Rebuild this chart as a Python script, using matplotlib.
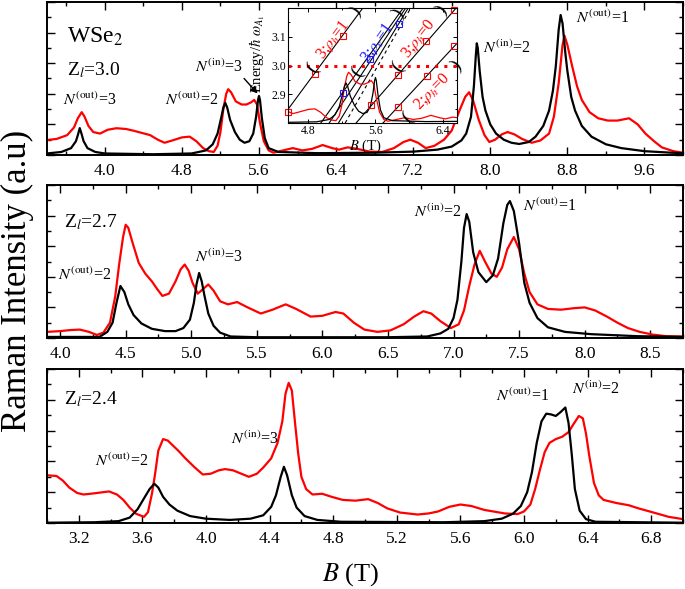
import numpy as np
import matplotlib
matplotlib.use('Agg')
import matplotlib.pyplot as plt
from matplotlib.ticker import MultipleLocator, FormatStrFormatter, NullFormatter, FixedLocator

plt.rcParams['font.family'] = ['Liberation Serif', 'DejaVu Serif']
plt.rcParams['mathtext.fontset'] = 'stix'

# ---------------- data ----------------
# Panel 1 (Z_l = 3.0)
p1_black = [(3.40, 0.10), (3.55, 0.20), (3.65, 0.45), (3.70, 0.90), (3.72, 1.30), (3.74, 1.76),
            (3.76, 1.35), (3.78, 0.90), (3.82, 0.45), (3.90, 0.20), (4.00, 0.10), (4.50, 0.05),
            (4.90, 0.10), (5.05, 0.30), (5.12, 0.70), (5.17, 1.40), (5.21, 2.50), (5.23, 3.10),
            (5.25, 3.40), (5.27, 3.10), (5.30, 2.30), (5.35, 1.50), (5.40, 1.00), (5.45, 0.80),
            (5.50, 0.90), (5.54, 1.40), (5.57, 2.50), (5.59, 3.60), (5.60, 3.86), (5.61, 3.60),
            (5.63, 2.40), (5.66, 1.10), (5.70, 0.45), (5.80, 0.20), (6.20, 0.12), (6.80, 0.15),
            (7.20, 0.22), (7.45, 0.35), (7.60, 0.55), (7.70, 0.95), (7.75, 1.40), (7.80, 2.50),
            (7.83, 4.50), (7.85, 6.50), (7.86, 7.30), (7.87, 7.00), (7.89, 5.50), (7.92, 3.80),
            (7.95, 2.90), (8.00, 2.00), (8.06, 1.40), (8.14, 1.00), (8.22, 0.80), (8.30, 0.72),
            (8.40, 0.85), (8.47, 1.20), (8.55, 1.90), (8.61, 2.90), (8.65, 4.20), (8.68, 5.80),
            (8.71, 8.20), (8.73, 9.15), (8.75, 8.60), (8.78, 6.60), (8.80, 5.50), (8.84, 3.80),
            (8.88, 2.90), (8.95, 1.90), (9.05, 1.20), (9.20, 0.70), (9.36, 0.45), (9.60, 0.25),
            (9.88, 0.15), (10.0, 0.12)]
p1_red = [(3.40, 0.98), (3.50, 1.05), (3.61, 1.30), (3.68, 1.80), (3.72, 2.40), (3.76, 2.80),
          (3.79, 2.50), (3.83, 1.90), (3.88, 1.50), (3.95, 1.40), (4.03, 1.65), (4.12, 1.75),
          (4.22, 1.70), (4.29, 1.60), (4.38, 1.45), (4.47, 1.30), (4.55, 1.00), (4.62, 0.80),
          (4.70, 0.95), (4.80, 1.15), (4.88, 1.20), (4.95, 0.90), (5.02, 0.45), (5.08, 0.25),
          (5.13, 0.20), (5.17, 0.60), (5.20, 1.50), (5.23, 3.00), (5.26, 4.00), (5.28, 4.30),
          (5.31, 4.10), (5.36, 3.50), (5.42, 3.30), (5.47, 3.30), (5.52, 3.45), (5.55, 3.60),
          (5.58, 3.30), (5.61, 2.10), (5.65, 0.90), (5.70, 0.30), (5.75, 0.15), (5.85, 0.30),
          (5.95, 0.45), (6.05, 0.30), (6.15, 0.40), (6.26, 0.65), (6.36, 0.45), (6.43, 0.35),
          (6.52, 0.50), (6.62, 0.40), (6.75, 0.22), (6.88, 0.20), (7.00, 0.45), (7.10, 0.85),
          (7.17, 1.00), (7.25, 0.80), (7.33, 0.45), (7.42, 0.60), (7.52, 1.00), (7.60, 1.60),
          (7.68, 2.90), (7.74, 3.80), (7.78, 4.10), (7.82, 3.60), (7.88, 2.30), (7.94, 1.30),
          (7.99, 0.85), (8.05, 1.00), (8.12, 1.35), (8.18, 1.50), (8.25, 1.35), (8.33, 1.05),
          (8.43, 0.80), (8.52, 0.95), (8.61, 1.40), (8.66, 2.50), (8.71, 4.70), (8.75, 7.20),
          (8.77, 7.80), (8.80, 7.20), (8.85, 5.80), (8.90, 4.50), (8.95, 3.60), (9.03, 2.80),
          (9.12, 2.40), (9.22, 2.25), (9.32, 2.25), (9.44, 2.40), (9.53, 2.00), (9.61, 1.40),
          (9.70, 0.90), (9.78, 0.50), (9.90, 0.25), (10.0, 0.15)]

# Panel 2 (Z_l = 2.7)
p2_black = [(3.90, 0.07), (4.30, 0.07), (4.36, 0.40), (4.40, 1.00), (4.43, 2.30), (4.46, 3.40),
            (4.49, 3.00), (4.52, 2.20), (4.56, 1.50), (4.62, 0.95), (4.70, 0.60), (4.80, 0.45),
            (4.88, 0.45), (4.94, 0.65), (4.99, 1.20), (5.02, 2.30), (5.04, 3.50), (5.06, 4.25),
            (5.08, 3.70), (5.10, 2.80), (5.13, 1.60), (5.17, 0.80), (5.22, 0.35), (5.30, 0.10),
            (5.50, 0.05), (6.50, 0.05), (6.80, 0.10), (6.90, 0.30), (6.96, 0.60), (7.00, 1.30),
            (7.03, 2.50), (7.06, 5.00), (7.08, 7.20), (7.10, 8.10), (7.12, 7.60), (7.15, 5.60),
            (7.19, 4.30), (7.25, 3.65), (7.30, 4.10), (7.34, 5.20), (7.38, 7.50), (7.41, 8.70),
            (7.43, 8.95), (7.46, 8.30), (7.50, 6.20), (7.54, 3.60), (7.58, 2.30), (7.64, 1.30),
            (7.72, 0.70), (7.85, 0.40), (8.05, 0.25), (8.40, 0.12), (8.75, 0.07)]
p2_red = [(3.90, 0.40), (4.00, 0.45), (4.08, 0.52), (4.15, 0.55), (4.22, 0.40), (4.28, 0.20),
          (4.33, 0.35), (4.38, 1.00), (4.42, 2.70), (4.45, 4.80), (4.48, 6.60), (4.50, 7.40),
          (4.52, 7.20), (4.55, 6.30), (4.60, 4.90), (4.65, 4.20), (4.70, 3.70), (4.74, 3.20),
          (4.78, 2.75), (4.83, 2.90), (4.88, 3.70), (4.92, 4.50), (4.95, 4.80), (4.98, 4.40),
          (5.01, 3.60), (5.05, 2.90), (5.09, 3.20), (5.13, 3.50), (5.17, 3.10), (5.22, 2.40),
          (5.28, 2.20), (5.35, 2.35), (5.43, 2.00), (5.53, 1.60), (5.62, 1.85), (5.72, 2.20),
          (5.80, 1.90), (5.91, 1.40), (6.00, 1.45), (6.10, 1.70), (6.16, 1.60), (6.24, 1.00),
          (6.32, 0.55), (6.42, 0.40), (6.52, 0.50), (6.62, 0.90), (6.70, 1.40), (6.77, 1.75),
          (6.83, 1.60), (6.90, 1.10), (6.98, 0.65), (7.04, 0.90), (7.08, 1.80), (7.12, 3.40),
          (7.16, 4.80), (7.20, 5.70), (7.24, 5.00), (7.29, 4.20), (7.33, 4.00), (7.37, 4.60),
          (7.41, 5.80), (7.46, 6.60), (7.50, 5.80), (7.54, 4.20), (7.58, 3.00), (7.64, 2.20),
          (7.72, 1.90), (7.82, 1.85), (7.92, 1.95), (8.00, 2.00), (8.08, 1.80), (8.17, 1.40),
          (8.25, 1.00), (8.33, 0.65), (8.42, 0.40), (8.52, 0.22), (8.62, 0.12), (8.75, 0.10)]

# Panel 3 (Z_l = 2.4)
p3_black = [(3.00, 0.02), (3.30, 0.05), (3.45, 0.12), (3.52, 0.35), (3.57, 0.90), (3.61, 1.60),
            (3.645, 2.20), (3.675, 2.55), (3.70, 2.30), (3.73, 1.70), (3.77, 1.20), (3.82, 0.80),
            (3.90, 0.45), (4.00, 0.28), (4.15, 0.20), (4.28, 0.28), (4.36, 0.50), (4.41, 1.05),
            (4.44, 1.80), (4.47, 3.00), (4.49, 3.65), (4.51, 3.10), (4.54, 1.80), (4.57, 1.00),
            (4.62, 0.45), (4.70, 0.20), (4.85, 0.08), (5.50, 0.05), (5.75, 0.12), (5.86, 0.28),
            (5.93, 0.60), (5.98, 1.10), (6.02, 2.00), (6.05, 3.30), (6.08, 5.20), (6.11, 6.60),
            (6.14, 7.10), (6.17, 7.05), (6.20, 6.95), (6.23, 7.20), (6.26, 7.50), (6.28, 6.50),
            (6.30, 4.50), (6.32, 2.20), (6.35, 0.80), (6.39, 0.25), (6.45, 0.08), (7.00, 0.02)]
p3_red = [(3.00, 3.10), (3.06, 3.05), (3.10, 2.75), (3.14, 2.30), (3.19, 1.95), (3.23, 1.85),
          (3.30, 1.93), (3.39, 2.05), (3.44, 1.85), (3.48, 1.50), (3.52, 1.00), (3.56, 0.60),
          (3.61, 0.40), (3.635, 0.70), (3.66, 1.90), (3.68, 3.20), (3.70, 4.70), (3.73, 5.45),
          (3.76, 5.35), (3.79, 5.05), (3.83, 4.65), (3.87, 4.20), (3.93, 3.60), (3.98, 3.15),
          (4.03, 3.20), (4.08, 3.42), (4.12, 3.50), (4.17, 3.42), (4.21, 3.25), (4.27, 3.00),
          (4.32, 3.20), (4.36, 3.60), (4.41, 4.20), (4.45, 5.20), (4.48, 6.60), (4.50, 8.40),
          (4.52, 9.10), (4.54, 8.60), (4.56, 6.50), (4.58, 4.50), (4.60, 3.00), (4.63, 2.20),
          (4.67, 1.85), (4.73, 1.90), (4.79, 1.70), (4.86, 1.50), (4.94, 1.45), (5.02, 1.55),
          (5.08, 1.30), (5.14, 0.95), (5.22, 0.68), (5.33, 0.55), (5.40, 0.62), (5.46, 0.75),
          (5.53, 1.05), (5.60, 1.20), (5.67, 1.10), (5.75, 0.85), (5.88, 0.62), (5.96, 0.58),
          (6.00, 0.75), (6.04, 1.20), (6.07, 2.20), (6.10, 3.45), (6.13, 4.60), (6.16, 5.20),
          (6.20, 5.45), (6.24, 5.60), (6.28, 5.90), (6.31, 6.40), (6.345, 6.95), (6.37, 6.80),
          (6.39, 5.80), (6.41, 4.40), (6.44, 2.60), (6.47, 1.80), (6.50, 1.50), (6.58, 1.30),
          (6.66, 1.15), (6.72, 0.95), (6.79, 0.75), (6.91, 0.40), (7.00, 0.25)]

# Inset: level lines given by B where E=2.8 and B where E=3.2
inset_lines_solid = [(4.44, 5.45), (4.95, 5.93), (5.05, 5.96), (5.16, 5.99), (5.37, 6.56), (5.69, 6.96)]
inset_lines_dashed = [(5.24, 6.02)]
inset_red_sq_B = [4.56, 4.88, 5.21, 5.55, 5.87, 5.87, 6.21, 6.20, 6.54, 6.54]
inset_red_sq_E = [2.839, 2.971, 3.104, 2.861, 2.968, 2.857, 2.964, 3.086, 3.193, 3.068]
inset_blue_sq_B = [5.21, 5.54, 5.88]
inset_blue_sq_E = [2.904, 3.021, 3.146]
inset_spec_base = 2.8
inset_spec_scale = 0.041
inset_yticks = [2.9, 3.0, 3.1]

# ---------------- figure ----------------
W, H = 685, 589
fig = plt.figure(figsize=(W / 100, H / 100), dpi=100)


def px_axes(left, top, right, bottom):
    return fig.add_axes([left / W, 1 - bottom / H, (right - left) / W, (bottom - top) / H])


def style(ax, xmaj, xmin):
    ax.set_ylim(0, 10)
    ax.xaxis.set_major_locator(MultipleLocator(xmaj))
    ax.xaxis.set_minor_locator(MultipleLocator(xmin))
    ax.xaxis.set_major_formatter(FormatStrFormatter('%.1f'))
    ax.yaxis.set_major_locator(MultipleLocator(2))
    ax.yaxis.set_minor_locator(MultipleLocator(1))
    ax.yaxis.set_major_formatter(NullFormatter())
    ax.tick_params(which='both', direction='in', top=True, right=True, width=1.0)
    ax.tick_params(which='major', length=6, labelsize=12.5, pad=6)
    ax.tick_params(which='minor', length=3)
    for s in ax.spines.values():
        s.set_linewidth(1.4)


def draw(ax, red, black):
    r = np.array(red).T
    b = np.array(black).T
    ax.plot(r[0], r[1], color='#ff0000', lw=1.6)
    ax.plot(b[0], b[1], color='black', lw=1.6)


NFS = 11.5
ax1 = px_axes(47, 2, 683, 155)
draw(ax1, p1_red, p1_black)
ax1.set_xlim(3.4, 10.0)
style(ax1, 0.8, 0.4)
ax1.text(3.61, 7.7, r'WSe$_2$', fontsize=17, va='center', ha='left')
ax1.text(3.61, 5.55, r'Z$_{l}$=3.0', fontsize=14, va='center', ha='left')
ax1.text(3.84, 3.6, r'$N^{\mathrm{(out)}}$=3', fontsize=NFS, ha='center', va='center')
ax1.text(4.90, 3.6, r'$N^{\mathrm{(out)}}$=2', fontsize=NFS, ha='center', va='center')
ax1.annotate(r'$N^{\mathrm{(in)}}$=3', xy=(5.595, 3.95), xytext=(5.18, 5.75), fontsize=NFS,
             ha='center', va='center',
             arrowprops=dict(arrowstyle='-|>', color='black', lw=1.0, mutation_scale=10,
                             relpos=(0.95, 0.1), shrinkA=0, shrinkB=1))
ax1.text(8.17, 7.0, r'$N^{\mathrm{(in)}}$=2', fontsize=NFS, ha='center', va='center')
ax1.text(9.17, 8.9, r'$N^{\mathrm{(out)}}$=1', fontsize=NFS, ha='center', va='center')

ax2 = px_axes(47, 185, 683, 338)
draw(ax2, p2_red, p2_black)
ax2.set_xlim(3.9, 8.75)
style(ax2, 0.5, 0.25)
ax2.text(4.03, 7.6, r'Z$_{l}$=2.7', fontsize=14, va='center', ha='left')
ax2.text(4.19, 4.1, r'$N^{\mathrm{(out)}}$=2', fontsize=NFS, ha='center', va='center')
ax2.text(5.21, 5.3, r'$N^{\mathrm{(in)}}$=3', fontsize=NFS, ha='center', va='center')
ax2.text(6.88, 8.2, r'$N^{\mathrm{(in)}}$=2', fontsize=NFS, ha='center', va='center')
ax2.text(7.73, 8.6, r'$N^{\mathrm{(out)}}$=1', fontsize=NFS, ha='center', va='center')

ax3 = px_axes(47, 369, 683, 523)
draw(ax3, p3_red, p3_black)
ax3.set_xlim(3.0, 7.0)
style(ax3, 0.4, 0.2)
ax3.text(3.11, 8.05, r'Z$_{l}$=2.4', fontsize=14, va='center', ha='left')
ax3.text(3.47, 4.0, r'$N^{\mathrm{(out)}}$=2', fontsize=NFS, ha='center', va='center')
ax3.text(4.31, 5.4, r'$N^{\mathrm{(in)}}$=3', fontsize=NFS, ha='center', va='center')
ax3.text(5.99, 8.2, r'$N^{\mathrm{(out)}}$=1', fontsize=NFS, ha='center', va='center')
ax3.text(6.45, 8.7, r'$N^{\mathrm{(in)}}$=2', fontsize=NFS, ha='center', va='center')

fig.text(17 / W, 1 - 281 / H, 'Raman Intensity (a.u)', rotation=90, fontsize=25,
         ha='center', va='center')
fig.text(351 / W, 1 - 575 / H, r'$B$ (T)', fontsize=19, ha='center', va='center')

# ---------------- inset ----------------
axi = px_axes(288, 8, 457, 123)
axi.set_facecolor('white')
axi.set_xlim(4.56, 6.57)
axi.set_ylim(2.8, 3.2)
for (b0, b1) in inset_lines_solid:
    axi.plot([b0, b1], [2.8, 3.2], color='black', lw=0.8)
for (b0, b1) in inset_lines_dashed:
    axi.plot([b0, b1], [2.8, 3.2], color='black', lw=0.8, ls=(0, (3, 3)))
ir = np.array(p1_red).T
ib = np.array(p1_black).T
axi.plot(ir[0], inset_spec_base + inset_spec_scale * ir[1], color='#ff0000', lw=0.9)
axi.plot(ib[0], inset_spec_base + inset_spec_scale * ib[1], color='black', lw=0.9)
axi.axhline(3.0, color='#ff0000', lw=2.2, ls=(0, (1, 2)))
axi.plot(inset_red_sq_B, inset_red_sq_E, ls='none', marker='s', ms=4.5, mfc='none',
         mec='#ff0000', mew=0.8, clip_on=False)
axi.plot(inset_blue_sq_B, inset_blue_sq_E, ls='none', marker='s', ms=4.5, mfc='none',
         mec='#1a1aff', mew=0.8, clip_on=False)
axi.xaxis.set_major_locator(MultipleLocator(0.8))
axi.xaxis.set_minor_locator(MultipleLocator(0.4))
axi.xaxis.set_major_formatter(FormatStrFormatter('%.1f'))
axi.yaxis.set_major_locator(FixedLocator(inset_yticks))
axi.yaxis.set_minor_locator(MultipleLocator(0.05))
axi.yaxis.set_major_formatter(FormatStrFormatter('%.1f'))
axi.tick_params(which='both', direction='in', top=True, right=True, width=0.7)
axi.tick_params(which='major', length=3, labelsize=8.5, pad=1.5)
axi.tick_params(which='minor', length=1.5)
for s in axi.spines.values():
    s.set_linewidth(0.8)
axi.set_xlabel(r'$B$ (T)', fontsize=10.5)
axi.xaxis.set_label_coords(0.46, -0.13)
axi.set_ylabel(r'Energy/$\hbar\ \omega_{A_1}$', fontsize=10.5)
axi.yaxis.set_label_coords(-0.125, 0.6)


def rot_label(ax, x, y, s, color, rot, half=26):
    ax.text(x, y, s, color=color, rotation=rot, rotation_mode='anchor', ha='center',
            va='center', fontsize=11.5)
    dx = np.cos(np.radians(rot)) * half
    dy = np.sin(np.radians(rot)) * half
    for sign, ch in ((-1, '('), (1, ')')):
        ax.annotate(ch, (x, y), xytext=(sign * dx, sign * dy), textcoords='offset points',
                    rotation=rot, rotation_mode='anchor', ha='center', va='center',
                    fontsize=14, color='black')


rot_label(axi, 5.10, 3.09, r'3;$\rho_h$=1', '#ff0000', 53)
rot_label(axi, 5.62, 3.08, r'3;$\rho_e$=1', '#1a1aff', 55)
rot_label(axi, 6.12, 3.095, r'3;$\rho_h$=0', '#ff0000', 52)
rot_label(axi, 6.27, 2.91, r'2;$\rho_h$=0', '#ff0000', 46)

fig.savefig('out.png', dpi=100)
